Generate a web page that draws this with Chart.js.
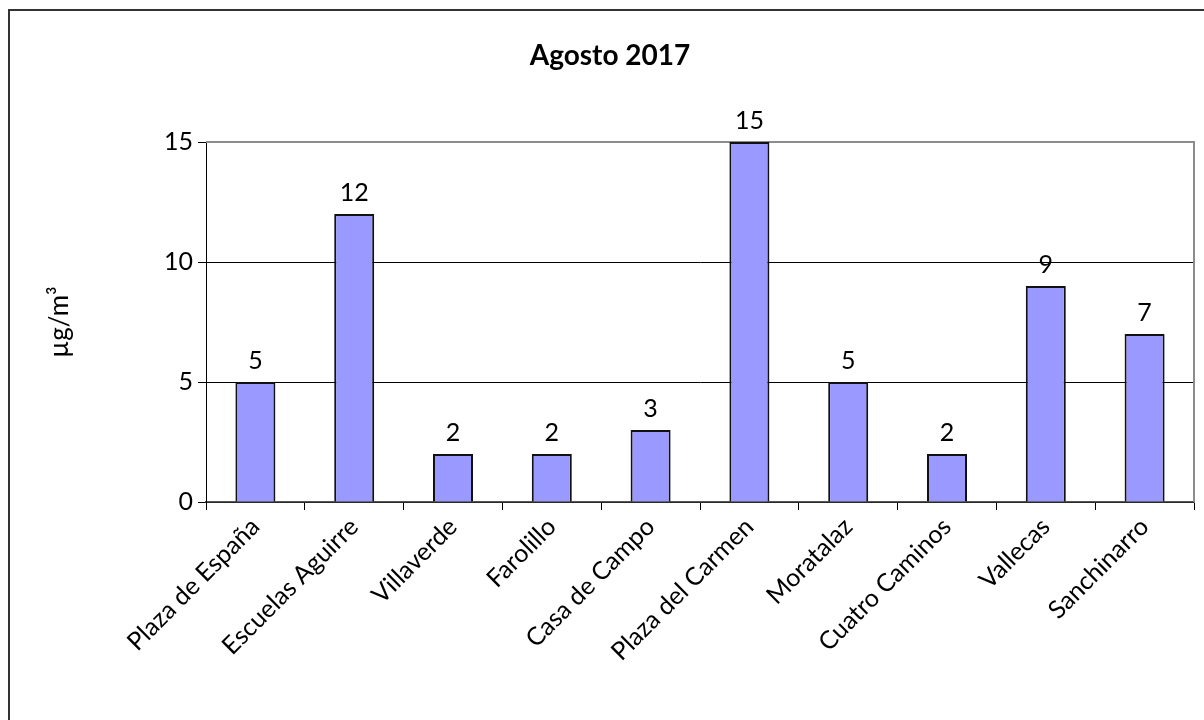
<!DOCTYPE html>
<html>
<head>
<meta charset="utf-8">
<script src="https://cdn.jsdelivr.net/npm/chart.js@4.4.0/dist/chart.umd.min.js"></script>
<style>
  body { margin: 0; background: #fff; }
  canvas { display: block; }
</style>
</head>
<body>
<canvas id="myChart" width="1204" height="720"></canvas>
<script>
// Data
const estaciones = ['Plaza de España', 'Escuelas Aguirre', 'Villaverde', 'Farolillo', 'Casa de Campo',
    'Plaza del Carmen', 'Moratalaz', 'Cuatro Caminos', 'Vallecas', 'Sanchinarro'];
const valores = [5, 12, 2, 2, 3, 15, 5, 2, 9, 7];
const yTicks = [0, 5, 10, 15];
const titulo = 'Agosto 2017';
const unidad = 'µg/m³';

const fuente = 'Lato, "Open Sans", sans-serif';

// plot frame, value labels, title, outer border
const extras = {
    id: 'extras',
    beforeDatasetsDraw(chart) {
        const {ctx, chartArea: a} = chart;
        ctx.save();
        ctx.strokeStyle = '#8c8c8c';
        ctx.lineWidth = 2;
        ctx.beginPath();
        ctx.moveTo(a.left, a.top);
        ctx.lineTo(a.right, a.top);
        ctx.lineTo(a.right, a.bottom);
        ctx.stroke();
        ctx.restore();
    },
    afterDatasetsDraw(chart) {
        const {ctx} = chart;
        const meta = chart.getDatasetMeta(0);
        ctx.save();
        ctx.font = '25px ' + fuente;
        ctx.fillStyle = '#000';
        ctx.textAlign = 'center';
        ctx.textBaseline = 'bottom';
        meta.data.forEach((bar, i) => {
            ctx.fillText(valores[i], bar.x, bar.y - 9);
        });
        // title
        ctx.font = 'bold 28px ' + fuente;
        ctx.textBaseline = 'middle';
        ctx.fillText(titulo, 610, 56);
        // outer border
        ctx.strokeStyle = '#333';
        ctx.lineWidth = 2;
        ctx.strokeRect(9, 10, 1300, 800);
        ctx.restore();
    }
};

const data = {
    labels: estaciones,
    datasets: [{
        data: valores,
        backgroundColor: '#9999FF',
        borderColor: '#111',
        borderWidth: 2,
        barPercentage: 0.405,
        categoryPercentage: 1
    }]
};

const config = {
    type: 'bar',
    data: data,
    options: {
        responsive: false,
        animation: false,
        layout: {padding: {left: 0, top: 142, right: 10, bottom: 0}},
        plugins: {
            legend: {display: false},
            tooltip: {enabled: false}
        },
        scales: {
            x: {
                grid: {
                    offset: true,
                    drawOnChartArea: false,
                    drawTicks: true,
                    tickLength: 8,
                    tickColor: '#000',
                    tickWidth: 1
                },
                border: {color: '#555', width: 1.5},
                ticks: {
                    color: '#000',
                    font: {family: fuente, size: 25},
                    minRotation: 45,
                    maxRotation: 45,
                    padding: 2,
                    autoSkip: false
                },
                afterFit(scale) { scale.height = 218; }
            },
            y: {
                min: 0,
                max: 15,
                afterBuildTicks(scale) { scale.ticks = yTicks.map(v => ({value: v})); },
                grid: {
                    color: ctx => (ctx.tick && ctx.tick.value === 15) ? 'rgba(0,0,0,0)' : '#000',
                    lineWidth: 1,
                    tickLength: 8,
                    tickColor: '#000'
                },
                border: {color: '#000', width: 1},
                ticks: {
                    color: '#000',
                    font: {family: fuente, size: 25},
                    padding: 5
                },
                title: {
                    display: true,
                    text: unidad,
                    color: '#000',
                    font: {family: fuente, size: 26},
                    padding: {top: 44, bottom: 0}
                },
                afterFit(scale) { scale.width = 206; }
            }
        }
    },
    plugins: [extras]
};

let myChart = new Chart(document.getElementById('myChart'), config);
</script>
</body>
</html>
